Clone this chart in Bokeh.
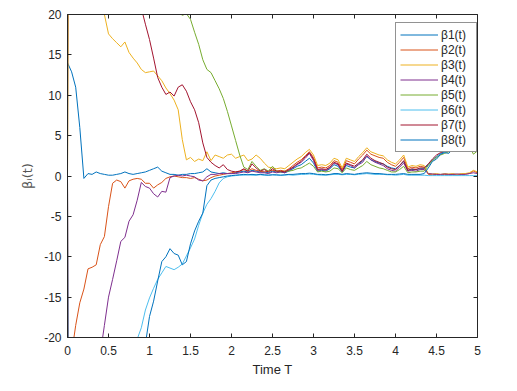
from bokeh.plotting import figure
from bokeh.models import LinearAxis, FixedTicker, Range1d, Legend, LegendItem
from bokeh.embed import file_html
from bokeh.resources import INLINE

# time grid (0, 0.01, then 0.05 .. 5.00)
t = [0.0, 0.01] + [round(0.05 * k, 2) for k in range(1, 101)]

beta1 = [14.0, 13.8,
         12.9, 11.0, 6.0, -0.3, 0.3, 0.2, 0.5, 0.3, 0.2, 0.1,
         0.1, 0.2, 0.3, 0.5, 0.3, 0.2, 0.3, 0.4, 0.5, 0.7,
         0.9, 1.1, 0.6, 0.4, 0.2, 0.2, 0.1, 0.2, 0.2, 0.3,
         0.3, 0.4, 0.5, 0.9, 0.5, 0.4, 0.3, 0.4, 0.3, 0.3,
         0.4, 0.5, 0.6, 0.5, 0.7, 0.6, 0.5, 0.5, 0.4, 0.6,
         0.5, 0.5, 0.4, 0.6, 0.9, 1.2, 1.4, 1.8, 2.2, 1.6,
         0.6, 0.7, 0.6, 0.9, 1.4, 1.2, 0.5, 1.3, 1.1, 1.0,
         1.5, 1.9, 2.4, 2.0, 1.8, 1.6, 1.5, 1.2, 1.0, 0.9,
         1.3, 1.8, 0.7, 0.8, 0.8, 0.9, 0.9, 1.4, 2.0, 2.4,
         2.8, 3.0, 3.1, 3.5, 3.9, 3.7, 3.4, 4.3, 3.1, 3.7]

beta2 = [0.0, -24.0,
         -22.0, -18.5, -15.7, -14.0, -11.5, -11.3, -11.0, -8.5, -7.5, -3.8,
         -0.9, -0.5, -0.7, -1.5, -0.6, -0.4, -0.3, -0.4, -0.9, -0.9,
         -1.5, -1.1, -0.8, -0.3, -0.1, 0.0, -0.1, -0.2, -0.2, -0.3,
         -0.2, -0.4, -0.6, -0.5, -0.2, 0.0, 0.1, 0.2, 0.3, 0.4,
         0.5, 0.6, 0.8, 0.6, 0.9, 0.7, 0.6, 0.5, 0.6, 0.7,
         0.6, 0.7, 0.6, 0.9, 1.3, 1.7, 2.0, 2.5, 3.0, 2.3,
         1.0, 1.1, 1.0, 1.3, 1.9, 1.7, 0.8, 1.9, 1.7, 1.5,
         2.1, 2.6, 3.2, 2.7, 2.5, 2.3, 2.2, 1.7, 1.4, 1.2,
         1.7, 2.3, 0.9, 1.1, 1.0, 1.2, 1.1, 0.2, 0.15, 0.2,
         0.15, 0.2, 0.15, 0.2, 0.15, 0.2, 0.25, 0.3, 0.6, 0.4]

beta3 = [0.0, 27.0,
         26.5, 25.7, 25.0, 24.2, 23.4, 22.5, 21.7, 20.8, 20.0, 17.6,
         17.0, 16.5, 16.0, 16.6, 15.3, 14.6, 14.0, 13.2, 12.8, 12.9,
         13.0, 12.4, 11.8, 10.9, 10.2, 9.4, 8.2, 4.5, 2.0, 2.3,
         1.8, 2.1, 1.9, 3.0, 1.9, 2.6, 2.4, 2.2, 2.6, 2.7,
         2.2, 2.4, 2.6, 1.9, 2.1, 2.6, 2.2, 1.6, 1.1, 1.0,
         0.9, 1.0, 0.9, 1.3, 1.7, 2.1, 2.4, 2.9, 3.3, 2.6,
         1.3, 1.4, 1.3, 1.6, 2.2, 2.0, 1.0, 2.2, 2.0, 1.8,
         2.4, 2.9, 3.5, 3.0, 2.8, 2.6, 2.5, 2.0, 1.7, 1.5,
         2.0, 2.6, 1.1, 1.3, 1.2, 1.4, 1.3, 0.3, 0.25, 0.3,
         0.2, 0.3, 0.25, 0.3, 0.2, 0.3, 0.3, 0.4, 0.7, 0.5]

beta4 = [0.0, -50.0,
         -46.0, -42.0, -38.0, -34.0, -31.0, -28.0, -25.0, -22.0, -18.5, -15.0,
         -12.8, -10.5, -8.1, -7.6, -5.6, -4.8, -3.0, -0.8, -1.3, -1.5,
         -2.2, -2.6, -1.9, -2.0, -0.2, 0.0, 0.1, 0.0, 0.1, 0.0,
         -0.1, -0.5, -0.6, -0.1, 0.2, 0.2, 0.3, 0.3, 0.3, 0.3,
         0.3, 0.4, 0.5, 0.4, 0.6, 0.5, 0.4, 0.4, 0.3, 0.5,
         0.4, 0.5, 0.4, 0.7, 1.0, 1.4, 1.7, 2.2, 2.8, 1.9,
         0.7, 0.8, 0.7, 1.0, 1.6, 1.4, 0.5, 1.5, 1.3, 1.0,
         1.4, 1.7, 2.5, 2.0, 1.7, 1.5, 1.3, 0.9, 0.7, 0.6,
         1.1, 1.6, 0.6, 0.7, 0.6, 0.8, 0.8, 0.3, 0.25, 0.2,
         0.2, 0.25, 0.2, 0.2, 0.25, 0.2, 0.2, 0.3, 0.4, 0.3]

beta5 = [0.0, 60.0,
         58.5, 57.0, 55.5, 54.0, 52.5, 51.0, 49.5, 48.0, 46.5, 45.0,
         43.5, 42.0, 40.5, 39.0, 37.5, 36.0, 34.5, 33.0, 31.5, 30.0,
         28.5, 27.0, 25.5, 24.0, 23.0, 22.0, 20.3, 19.9, 20.1, 19.4,
         17.8, 16.3, 14.4, 13.2, 12.8, 11.8, 10.8, 9.6, 8.0, 6.2,
         4.4, 2.6, 1.1, 0.8, 1.8, 1.2, 0.7, 0.9, 0.6, 1.2,
         0.6, 0.5, 0.6, 0.6, 0.7, 0.9, 1.0, 1.3, 1.6, 1.2,
         0.5, 0.6, 0.5, 0.6, 1.0, 0.9, 0.4, 1.0, 0.8, 0.7,
         1.0, 1.3, 1.8, 1.4, 1.2, 1.0, 0.9, 0.7, 0.5, 0.5,
         0.8, 1.2, 0.4, 0.5, 0.5, 0.6, 0.6, 1.3, 1.9, 2.3,
         2.6, 2.8, 3.0, 3.2, 3.5, 3.4, 3.1, 3.8, 2.7, 3.1]

beta6 = [0.0, -55.0,
         -53.0, -50.5, -48.0, -46.0, -43.5, -41.0, -38.5, -36.0, -34.0, -31.5,
         -29.0, -27.0, -25.0, -23.5, -22.0, -21.0, -20.2, -18.8, -16.6, -15.1,
         -13.9, -12.8, -12.0, -11.2, -11.4, -11.6, -11.3, -10.9, -9.9, -8.9,
         -7.8, -6.1, -4.6, -3.5, -2.8, -1.9, -0.85, -0.3, -0.1, 0.0,
         0.05, 0.1, 0.1, 0.15, 0.1, 0.1, 0.15, 0.1, 0.1, 0.15,
         0.1, 0.1, 0.1, 0.15, 0.1, 0.15, 0.2, 0.2, 0.25, 0.2,
         0.15, 0.1, 0.1, 0.15, 0.2, 0.2, 0.15, 0.2, 0.2, 0.15,
         0.2, 0.25, 0.3, 0.25, 0.2, 0.2, 0.2, 0.15, 0.15, 0.1,
         0.15, 0.2, 0.1, 0.1, 0.1, 0.1, 0.1, 0.05, 0.05, 0.05,
         0.05, 0.05, 0.05, 0.05, 0.05, 0.05, 0.05, 0.05, 0.05, 0.05]

beta7 = [0.0, 60.0,
         58.0, 56.0, 53.5, 51.0, 48.5, 46.0, 43.5, 41.0, 39.0, 37.0,
         34.5, 32.0, 30.0, 28.0, 26.0, 24.0, 22.5, 20.8, 18.8, 16.9,
         14.6, 12.2, 11.0, 10.1, 10.4, 9.9, 11.0, 11.3, 10.5, 9.2,
         8.2, 6.6, 4.1, 2.3, 1.7, 1.3, 1.0, 1.4, 0.8, 0.6,
         0.5, 0.6, 0.9, 0.6, 1.5, 1.0, 0.6, 0.8, 0.5, 0.9,
         0.6, 0.6, 0.5, 0.8, 1.1, 1.5, 1.8, 2.4, 2.9, 2.1,
         0.8, 0.9, 0.8, 1.1, 1.7, 1.5, 0.6, 1.6, 1.4, 1.2,
         1.6, 2.0, 2.7, 2.2, 1.9, 1.7, 1.5, 1.1, 0.9, 0.8,
         1.3, 1.9, 0.7, 0.9, 0.8, 1.0, 1.0, 1.5, 2.1, 2.6,
         2.9, 3.1, 3.3, 3.6, 4.0, 3.8, 3.5, 4.8, 3.2, 3.9]

beta8 = [0.0, -60.0,
         -58.0, -56.0, -54.0, -52.0, -49.5, -47.0, -45.0, -43.0, -41.0, -39.0,
         -37.0, -34.5, -32.5, -30.5, -28.5, -26.5, -24.5, -22.5, -20.8, -17.4,
         -15.5, -13.0, -10.6, -10.0, -9.0, -9.6, -9.8, -11.0, -10.6, -8.4,
         -6.8, -5.6, -4.6, -1.2, -0.5, -0.3, -0.2, -0.1, 0.0, 0.05,
         0.1, 0.15, 0.2, 0.15, 0.2, 0.15, 0.2, 0.15, 0.1, 0.15,
         0.15, 0.1, 0.15, 0.2, 0.2, 0.25, 0.3, 0.3, 0.35, 0.3,
         0.2, 0.2, 0.15, 0.2, 0.3, 0.3, 0.2, 0.3, 0.25, 0.2,
         0.3, 0.35, 0.4, 0.35, 0.3, 0.3, 0.25, 0.2, 0.2, 0.2,
         0.25, 0.3, 0.2, 0.2, 0.2, 0.2, 0.3, 1.0, 1.8, 2.1,
         2.7, 2.9, 2.8, 3.4, 4.2, 3.6, 3.3, 4.0, 3.0, 3.6]

series = [beta1, beta2, beta3, beta4, beta5, beta6, beta7, beta8]
labels = ["β1(t)", "β2(t)", "β3(t)", "β4(t)", "β5(t)", "β6(t)", "β7(t)", "β8(t)"]

x_ticks = [0, 0.5, 1, 1.5, 2, 2.5, 3, 3.5, 4, 4.5, 5]
x_tick_labels = ["0", "0.5", "1", "1.5", "2", "2.5", "3", "3.5", "4", "4.5", "5"]
y_ticks = [-20, -15, -10, -5, 0, 5, 10, 15, 20]
y_tick_labels = ["-20", "-15", "-10", "-5", "0", "5", "10", "15", "20"]

colors = ["#0072BD", "#D95319", "#EDB120", "#7E2F8E",
          "#77AC30", "#4DBEEE", "#A2142F", "#0072BD"]

FONT = "Liberation Sans"
AX = "#262626"

p = figure(frame_width=410, frame_height=323, output_backend="svg",
           toolbar_location=None, x_range=Range1d(0, 5), y_range=Range1d(-20, 20),
           min_border_left=67, min_border_right=25, min_border_top=14,
           min_border_bottom=45, background_fill_color="white",
           border_fill_color="white")
p.outline_line_color = None
p.xgrid.visible = False
p.ygrid.visible = False

items = []
for ys, lab, col in zip(series, labels, colors):
    r = p.line(t, ys, line_color=col, line_width=1)
    items.append(LegendItem(label=lab, renderers=[r]))


def style_axis(ax, ticks, overrides, show_labels):
    ax.ticker = FixedTicker(ticks=ticks)
    ax.axis_line_color = AX
    ax.axis_line_width = 1
    ax.major_tick_line_color = AX
    ax.major_tick_in = 4
    ax.major_tick_out = 0
    ax.minor_tick_line_color = None
    ax.major_label_text_font = FONT
    ax.major_label_text_color = AX
    ax.major_label_overrides = overrides
    if show_labels:
        ax.major_label_text_font_size = "12px"
    else:
        ax.major_label_text_font_size = "1px"
        ax.major_label_text_color = None
        ax.major_label_standoff = 0


xd = {x: s for x, s in zip(x_ticks, x_tick_labels)}
yd = {y: s for y, s in zip(y_ticks, y_tick_labels)}

style_axis(p.xaxis[0], x_ticks, xd, True)
style_axis(p.yaxis[0], y_ticks, yd, True)
p.xaxis[0].major_label_standoff = 8
p.yaxis[0].major_label_standoff = 6

p.xaxis[0].axis_label = "Time T"
p.xaxis[0].axis_label_text_font = FONT
p.xaxis[0].axis_label_text_font_size = "13px"
p.xaxis[0].axis_label_text_font_style = "normal"
p.xaxis[0].axis_label_text_color = AX
p.xaxis[0].axis_label_standoff = 4

p.yaxis[0].axis_label = "βᵢ(t)"
p.yaxis[0].axis_label_text_font = "DejaVu Sans"
p.yaxis[0].axis_label_text_font_size = "13px"
p.yaxis[0].axis_label_text_font_style = "normal"
p.yaxis[0].axis_label_text_color = "#555555"
p.yaxis[0].axis_label_standoff = 6

top_ax = LinearAxis()
style_axis(top_ax, x_ticks, xd, False)
p.add_layout(top_ax, "above")
right_ax = LinearAxis()
style_axis(right_ax, y_ticks, yd, False)
p.add_layout(right_ax, "right")

legend = Legend(items=items, location=(328, 185), margin=0, padding=4,
                spacing=0, glyph_width=38, glyph_height=15, label_height=15,
                label_width=31, label_standoff=3,
                label_text_font=FONT, label_text_font_size="12px",
                label_text_color=AX, border_line_color=AX, border_line_width=1,
                background_fill_color="white", background_fill_alpha=1)
p.add_layout(legend)

open("out.html", "w").write(file_html(p, INLINE))
